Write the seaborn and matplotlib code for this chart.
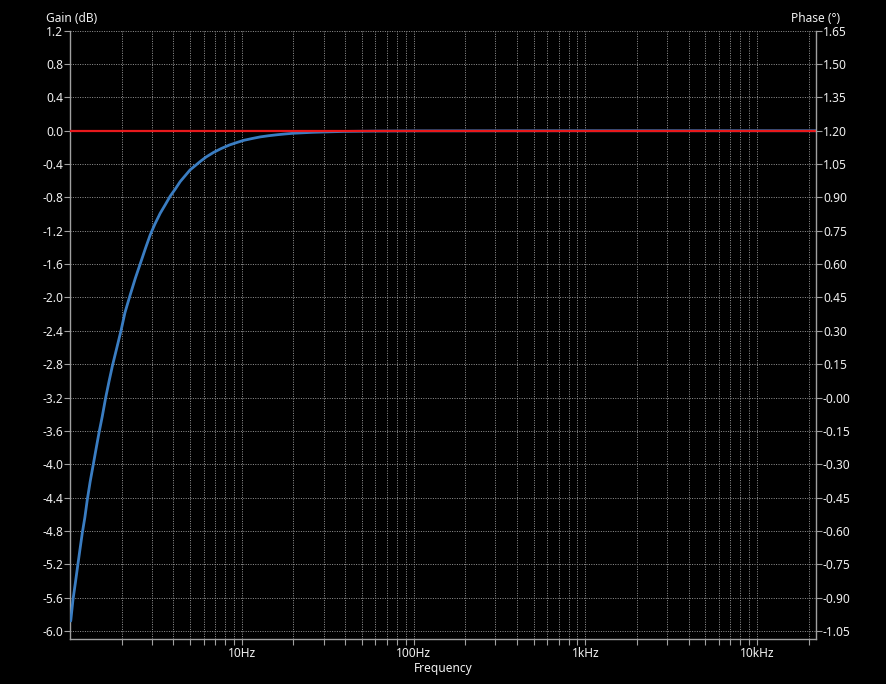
import numpy as np
import pandas as pd
import matplotlib
matplotlib.use("Agg")
import matplotlib.pyplot as plt
from matplotlib.ticker import FixedLocator, NullFormatter
import seaborn as sns

# ---- data ----
freq_hz = [1.01, 1.04, 1.075, 1.11, 1.145, 1.18, 1.22, 1.262, 1.31, 1.367,
           1.42, 1.476, 1.54, 1.614, 1.69, 1.77, 1.87, 1.98, 2.09, 2.24,
           2.40, 2.56, 2.75, 2.93, 3.12, 3.35, 3.58, 3.83, 4.1, 4.38,
           4.68, 5.0, 5.35, 5.72, 6.2, 6.85, 7.6, 8.5, 9.4, 10.27,
           11.5, 12.8, 14.3, 16.06, 18.0, 20.0, 25.7, 32.0, 40.0, 60.0,
           100.0, 1000.0, 22050.0]
gain_db = [-5.88, -5.63, -5.42, -5.21, -5.01, -4.82, -4.64, -4.42, -4.21, -4.00,
           -3.81, -3.62, -3.43, -3.20, -3.00, -2.81, -2.61, -2.40, -2.18, -1.97,
           -1.77, -1.60, -1.41, -1.25, -1.12, -0.99, -0.89, -0.785, -0.70, -0.61,
           -0.54, -0.47, -0.42, -0.37, -0.315, -0.26, -0.213, -0.17, -0.14, -0.115,
           -0.093, -0.074, -0.060, -0.048, -0.038, -0.030, -0.019, -0.013, -0.008,
           -0.004, -0.0015, 0.0, 0.0]
ref_freq_hz = [1.0, 22050.0]
ref_gain_db = [0.0, 0.0]

gain_ticks = [1.2, 0.8, 0.4, 0.0, -0.4, -0.8, -1.2, -1.6, -2.0, -2.4, -2.8,
              -3.2, -3.6, -4.0, -4.4, -4.8, -5.2, -5.6, -6.0]
gain_tick_labels = ["1.2", "0.8", "0.4", "0.0", "-0.4", "-0.8", "-1.2", "-1.6",
                    "-2.0", "-2.4", "-2.8", "-3.2", "-3.6", "-4.0", "-4.4",
                    "-4.8", "-5.2", "-5.6", "-6.0"]
phase_ticks = [1.65, 1.50, 1.35, 1.20, 1.05, 0.90, 0.75, 0.60, 0.45, 0.30,
               0.15, 0.0, -0.15, -0.30, -0.45, -0.60, -0.75, -0.90, -1.05]
phase_tick_labels = ["1.65", "1.50", "1.35", "1.20", "1.05", "0.90", "0.75",
                     "0.60", "0.45", "0.30", "0.15", "-0.00", "-0.15", "-0.30",
                     "-0.45", "-0.60", "-0.75", "-0.90", "-1.05"]
freq_major = [10, 100, 1000, 10000]
freq_major_labels = ["10Hz", "100Hz", "1kHz", "10kHz"]

# ---- style ----
sns.set_style("dark")
plt.rcParams["font.family"] = ["Noto Sans", "DejaVu Sans"]
TXT = "#f0f0f0"
AXC = "#a0a0a0"
GRID = "#909090"
FS = 8.6

fig = plt.figure(figsize=(8.86, 6.84), dpi=100, facecolor="black")
ax = fig.add_axes([70 / 886, 1 - 639 / 684, (816 - 70) / 886, (639 - 30.7) / 684])
ax.set_facecolor("black")

curve = pd.DataFrame({"f": freq_hz, "g": gain_db})
ref = pd.DataFrame({"f": ref_freq_hz, "g": ref_gain_db})
sns.lineplot(data=curve, x="f", y="g", ax=ax, color="#3a7dc2", linewidth=2.0,
             zorder=3)
sns.lineplot(data=ref, x="f", y="g", ax=ax, color="#e8191c", linewidth=1.6,
             zorder=4)

ax.set_xscale("log")
ax.set_xlim(1.0, 22050.0)
ylo = -6.096
ax.set_ylim(ylo, 1.2)

minor = []
for dec in [1, 10, 100, 1000, 10000]:
    for m in range(2, 10):
        v = dec * m
        if v <= 22050:
            minor.append(v)
ax.xaxis.set_major_locator(FixedLocator(freq_major))
ax.set_xticklabels(freq_major_labels)
ax.xaxis.set_minor_locator(FixedLocator(minor))
ax.xaxis.set_minor_formatter(NullFormatter())

ax.set_yticks(gain_ticks)
ax.set_yticklabels(gain_tick_labels)

ax.grid(True, which="both", axis="both", color=GRID, linestyle=(0, (1, 1.4)),
        linewidth=0.72)
ax.set_axisbelow(True)

for side in ["top", "right"]:
    ax.spines[side].set_visible(False)
for side in ["left", "bottom"]:
    ax.spines[side].set_visible(True)
    ax.spines[side].set_color(AXC)
    ax.spines[side].set_linewidth(1.0)

ax.tick_params(axis="both", which="both", direction="out", length=4.5,
               width=0.8, color=AXC, labelcolor=TXT, labelsize=FS,
               bottom=True, left=True)
ax.tick_params(axis="y", pad=0.5)
ax.tick_params(axis="x", pad=1.5)

ax.set_xlabel("Frequency", color=TXT, fontsize=FS, labelpad=1.5)
ax.set_ylabel("")

# right (phase) axis
ax2 = ax.twinx()
ax2.set_ylim(1.65 + (ylo - 1.2) * 0.375, 1.65)
ax2.set_yticks(phase_ticks)
ax2.set_yticklabels(phase_tick_labels)
ax2.grid(False)
for side in ["top", "left", "bottom"]:
    ax2.spines[side].set_visible(False)
ax2.spines["right"].set_visible(True)
ax2.spines["right"].set_color(AXC)
ax2.spines["right"].set_linewidth(1.0)
ax2.tick_params(axis="y", direction="out", length=4.5, width=0.8, color=AXC,
                labelcolor=TXT, labelsize=FS, pad=0.5, right=True)

fig.text(46 / 886, 1 - 19 / 684, "Gain (dB)", color=TXT, fontsize=FS,
         ha="left", va="center")
fig.text(840 / 886, 1 - 19 / 684, "Phase (°)", color=TXT, fontsize=FS,
         ha="right", va="center")

fig.savefig("out.png", dpi=100, facecolor="black")
